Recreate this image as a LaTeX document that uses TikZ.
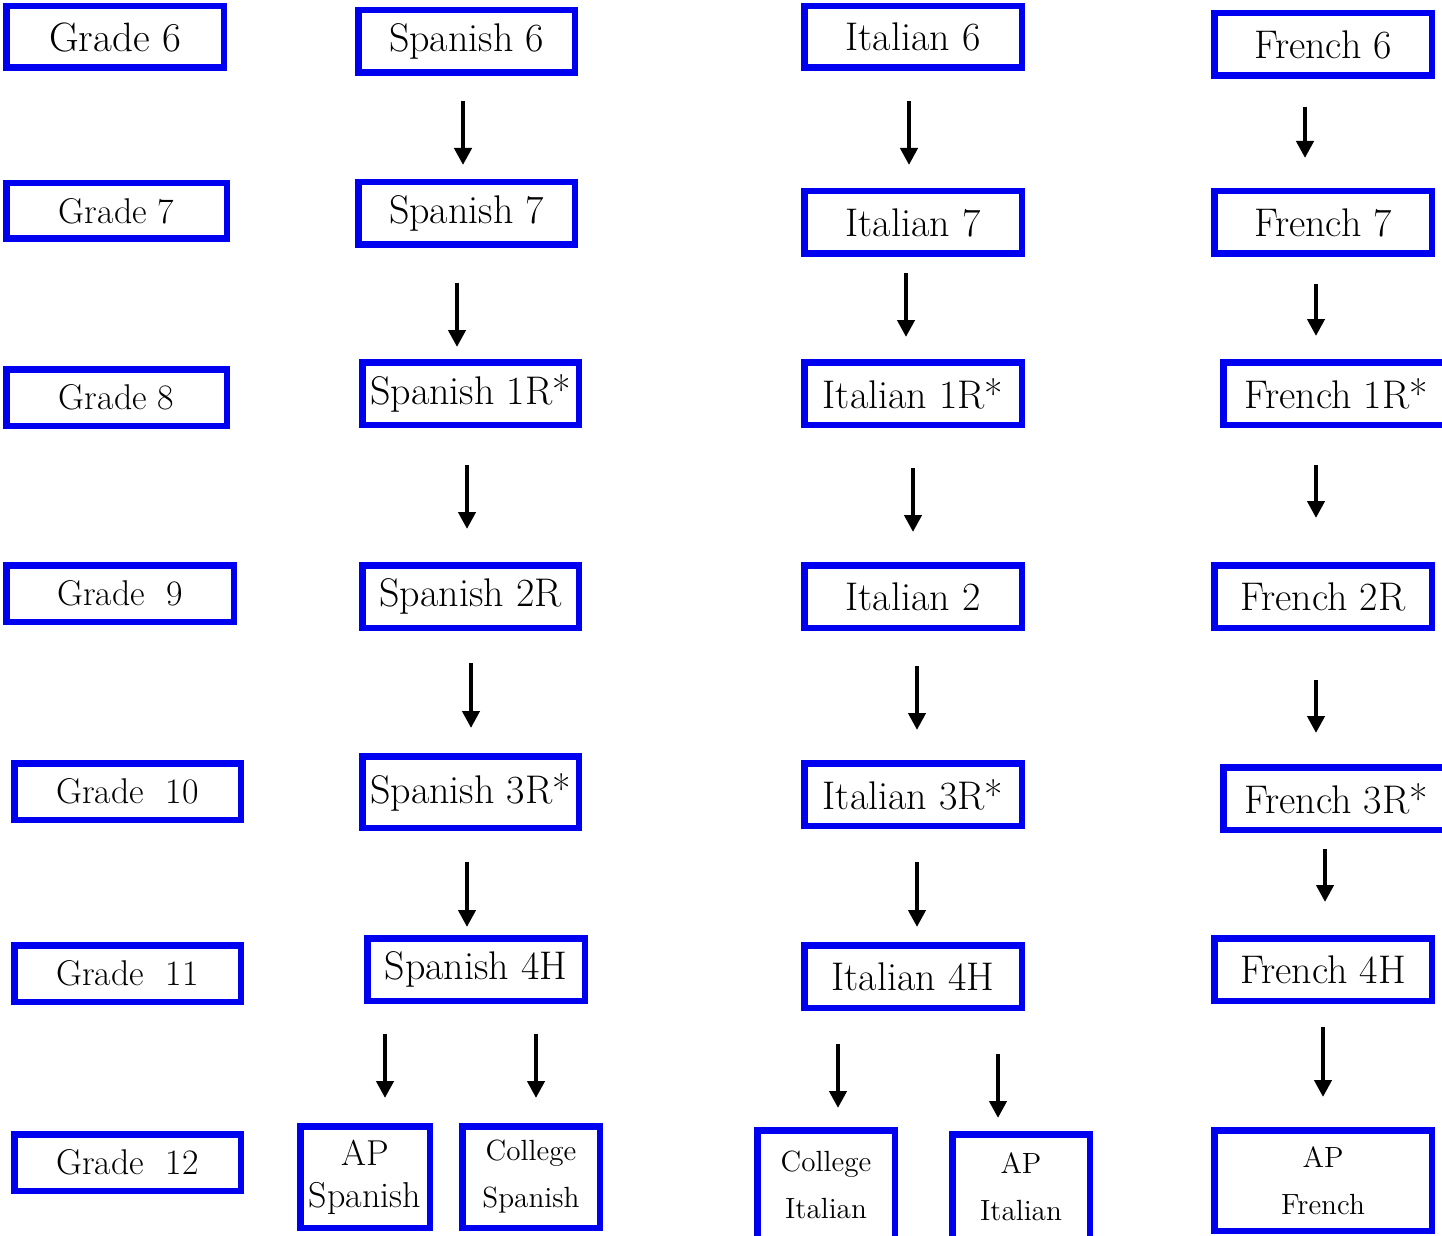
\documentclass[tikz,border=0pt]{standalone}
\usetikzlibrary{arrows.meta}
\definecolor{boxblue}{RGB}{0,0,240}
\newcommand{\mybox}[7][]{%
  \pgfmathsetmacro\cx{(#3+#5)/2}\pgfmathsetmacro\cy{(#4+#6)/2}%
  \pgfmathsetmacro\bw{(#5-#3-6.5)*0.5}\pgfmathsetmacro\bh{(#6-#4-6.5)*0.5}%
  \node[box,minimum width=\bw pt,minimum height=\bh pt,#1] (#2) at (\cx,\cy) {#7};}
\newcommand{\myarrow}[4]{% name, x, y1, y2
  \coordinate (#1a) at (#2,#3);\coordinate (#1b) at (#2,#4);
  \draw[arr] (#1a) -- (#1b);}
\begin{document}
\begin{tikzpicture}[x=0.5pt,y=-0.5pt,
  box/.style={draw=boxblue,line width=3.25pt,rectangle,inner sep=0pt,align=center,fill=white},
  lang/.style={font=\fontsize{20}{23}\selectfont},
  gsix/.style={font=\fontsize{20.5}{23}\selectfont},
  grade/.style={font=\fontsize{17.9}{21}\selectfont},
  small/.style={font=\fontsize{14.6}{23.5}\selectfont},
  mid/.style={font=\fontsize{18}{21}\selectfont},
  arr/.style={line width=2.1pt,-{Triangle[width=8.5pt,length=8.5pt]}}]
\useasboundingbox (0,0) rectangle (1442,1236);
\clip (0,0) rectangle (1442,1236);
% grade column
\mybox[gsix]{g6}{3}{3}{227}{71}{Grade 6}
\mybox[grade]{g7}{3}{180}{230}{242}{Grade 7}
\mybox[grade]{g8}{3}{366}{230}{429}{Grade 8}
\mybox[grade]{g9}{3}{562}{237}{625}{Grade\ \ 9}
\mybox[grade]{g10}{11}{760}{244}{823}{Grade\ \ 10}
\mybox[grade]{g11}{11}{942}{244}{1005}{Grade\ \ 11}
\mybox[grade]{g12}{11}{1131}{244}{1194}{Grade\ \ 12}
% Spanish
\mybox[lang]{s6}{355}{7}{578}{76}{Spanish 6}
\mybox[lang]{s7}{355}{179}{578}{248}{Spanish 7}
\mybox[lang]{s1}{359}{359}{582}{428}{Spanish 1R*}
\mybox[lang]{s2}{359}{562}{582}{631}{Spanish 2R}
\mybox[lang]{s3}{359}{753}{582}{831}{Spanish 3R*}
\mybox[lang]{s4}{364}{935}{588}{1004}{Spanish 4H}
\mybox[mid]{sap}{297}{1123}{433}{1231}{AP\\Spanish}
\mybox[small]{sco}{459}{1123}{603}{1231}{College\\Spanish}
% Italian
\mybox[lang]{i6}{801}{3}{1025}{71}{Italian 6}
\mybox[lang]{i7}{801}{188}{1025}{257}{Italian 7}
\mybox[lang]{i1}{801}{359}{1025}{428}{Italian 1R*}
\mybox[lang]{i2}{801}{562}{1025}{631}{Italian 2}
\mybox[lang]{i3}{801}{760}{1025}{829}{Italian 3R*}
\mybox[lang]{i4}{801}{942}{1025}{1011}{Italian 4H}
\mybox[small]{ico}{754}{1127}{898}{1242}{College\\Italian}
\mybox[small]{iap}{949}{1131}{1093}{1242}{AP\\Italian}
% French
\mybox[lang]{f6}{1211}{10}{1435}{79}{French 6}
\mybox[lang]{f7}{1211}{188}{1435}{257}{French 7}
\mybox[lang]{f1}{1220}{359}{1452}{428}{French 1R*}
\mybox[lang]{f2}{1211}{562}{1435}{631}{French 2R}
\mybox[lang]{f3}{1220}{764}{1452}{833}{French 3R*}
\mybox[lang]{f4}{1211}{935}{1435}{1004}{French 4H}
\mybox[small]{fap}{1211}{1127}{1435}{1234}{AP\\French}
% arrows
\myarrow{sa1}{463}{101}{165}
\myarrow{ia1}{909}{101}{165}
\myarrow{fa1}{1305}{107}{158}
\myarrow{sa2}{457}{283}{347}
\myarrow{ia2}{906}{273}{337}
\myarrow{fa2}{1316}{284}{336}
\myarrow{sa3}{467}{465}{529}
\myarrow{ia3}{913}{468}{532}
\myarrow{fa3}{1316}{465}{518}
\myarrow{sa4}{471}{663}{728}
\myarrow{ia4}{917}{666}{730}
\myarrow{fa4}{1316}{680}{733}
\myarrow{sa5}{467}{862}{927}
\myarrow{ia5}{917}{862}{927}
\myarrow{fa5}{1325}{849}{902}
\myarrow{sa6}{385}{1034}{1098}
\myarrow{sa7}{536}{1034}{1098}
\myarrow{ia6}{838}{1044}{1108}
\myarrow{ia7}{998}{1054}{1118}
\myarrow{fa6}{1323}{1027}{1097}
\end{tikzpicture}
\end{document}
